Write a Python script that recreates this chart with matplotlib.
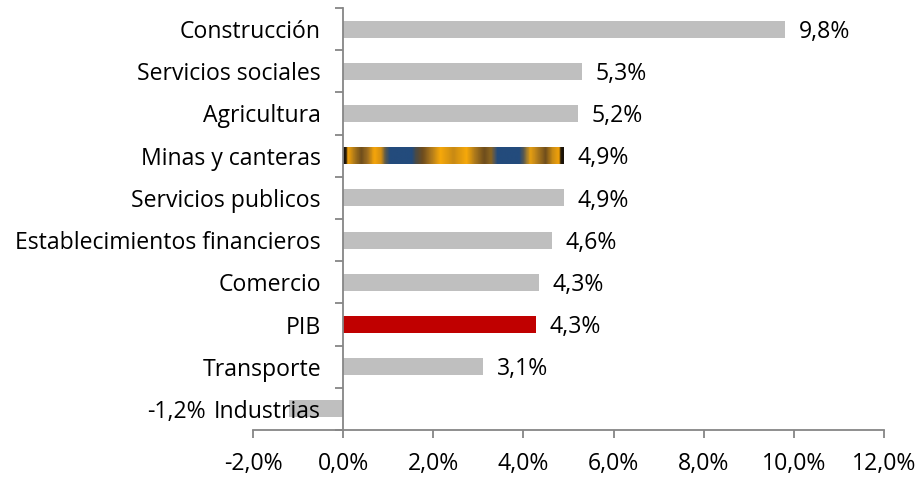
import numpy as np
import matplotlib.pyplot as plt
from matplotlib.colors import LinearSegmentedColormap
from matplotlib.ticker import FuncFormatter, FixedLocator

plt.rcParams['font.family'] = ['Open Sans', 'DejaVu Sans']
FS = 16.6

# sectors, top to bottom
sectors = ["Construcción", "Servicios sociales", "Agricultura", "Minas y canteras",
           "Servicios publicos", "Establecimientos financieros", "Comercio", "PIB",
           "Transporte", "Industrias"]
growth = [9.8, 5.3, 5.2, 4.9, 4.9, 4.63, 4.34, 4.28, 3.1, -1.2]
xticks = [-2, 0, 2, 4, 6, 8, 10, 12]

bar_colors = ["#BFBFBF"] * len(sectors)
bar_colors[sectors.index("PIB")] = "#C00000"
axis_col = "#868686"

fig = plt.figure(figsize=(9.19, 4.78), dpi=100)
ax = fig.add_axes([253 / 919, 48 / 478, 631 / 919, 422 / 478])
ax.set_axisbelow(False)

ypos = np.arange(len(sectors))
h = 0.4
bars = ax.barh(ypos, growth, height=h, color=bar_colors, zorder=2)

# textured fill for the mining bar
mi = sectors.index("Minas y canteras")
bars[mi].set_alpha(0)
stops = [
    (0.00, "#1a1208"), (0.01, "#1a1208"), (0.02, "#F2A20A"), (0.05, "#a8761a"),
    (0.08, "#6e4d1c"), (0.11, "#a17020"), (0.14, "#F6A60A"), (0.17, "#d48f12"),
    (0.19, "#5b5a4c"), (0.21, "#234B7C"), (0.31, "#234B7C"), (0.33, "#4b4a45"),
    (0.36, "#6d4c1e"), (0.40, "#b07a1c"), (0.44, "#F7A90A"), (0.50, "#c98a14"),
    (0.56, "#F7A90A"), (0.60, "#a8761c"), (0.64, "#6e4d1c"), (0.67, "#8a6420"),
    (0.69, "#4b5560"), (0.70, "#234B7C"), (0.80, "#234B7C"), (0.82, "#5a5a50"),
    (0.85, "#e8a010"), (0.88, "#b47e1c"), (0.92, "#6e4d1c"), (0.95, "#c88a14"),
    (0.98, "#F2A20A"), (0.99, "#1a1208"), (1.00, "#1a1208"),
]
cmap = LinearSegmentedColormap.from_list("minas", stops)
gx = np.linspace(0, 1, 400)
img = np.tile(gx, (20, 1))
im = ax.imshow(img, cmap=cmap, aspect="auto", interpolation="bilinear",
               extent=[0, growth[mi], mi + h / 2, mi - h / 2], zorder=2)
im.set_clip_path(bars[mi])

# value labels
for y, v in zip(ypos, growth):
    txt = f"{v:.1f}%".replace(".", ",")
    if v >= 0:
        ax.annotate(txt, (v, y), xytext=(10, -2), textcoords="offset points",
                    ha="left", va="center", fontsize=FS, zorder=1)
    else:
        ax.annotate(txt, (v, y), xytext=(-60, -2), textcoords="offset points",
                    ha="right", va="center", fontsize=FS, zorder=1)

ax.set_xlim(-2, 12)
ax.set_ylim(len(sectors) - 0.5, -0.5)
ax.set_xticks(xticks)
ax.xaxis.set_major_formatter(FuncFormatter(lambda v, p: f"{v:.1f}%".replace(".", ",")))

ax.set_yticks(ypos)
ax.set_yticklabels(sectors)
ax.yaxis.set_minor_locator(FixedLocator(np.arange(len(sectors) + 1) - 0.5))

ax.spines["left"].set_position(("data", 0))
for s in ["top", "right"]:
    ax.spines[s].set_visible(False)
for s in ["left", "bottom"]:
    ax.spines[s].set_color(axis_col)
    ax.spines[s].set_linewidth(1.3)

ax.tick_params(axis="y", which="major", length=0, pad=16, labelsize=FS)
ax.tick_params(axis="y", which="minor", length=6, width=1.3, color=axis_col, direction="out")
ax.tick_params(axis="x", which="major", length=6, width=1.3, color=axis_col,
               direction="out", pad=10, labelsize=FS)

fig.savefig("out.png", dpi=100)
